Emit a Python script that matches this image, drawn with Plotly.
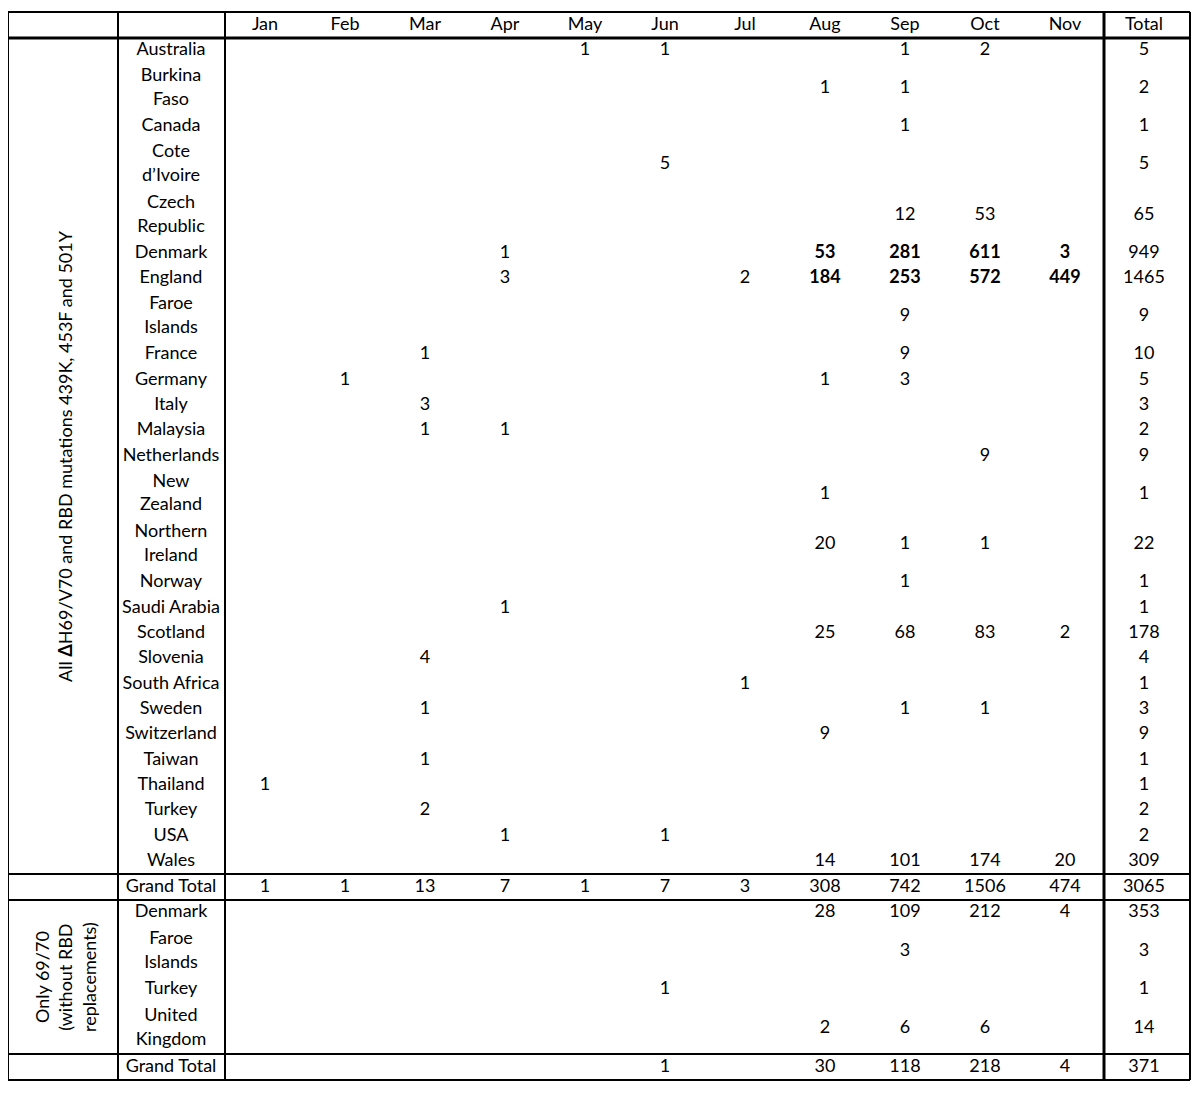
import plotly.graph_objects as go

months = ["Jan", "Feb", "Mar", "Apr", "May", "Jun", "Jul", "Aug", "Sep", "Oct", "Nov"]

# section 1: all dH69/V70 + RBD mutations
countries_1 = ["Australia", "Burkina<br>Faso", "Canada", "Cote<br>d’Ivoire", "Czech<br>Republic",
               "Denmark", "England", "Faroe<br>Islands", "France", "Germany", "Italy", "Malaysia",
               "Netherlands", "New<br>Zealand", "Northern<br>Ireland", "Norway", "Saudi Arabia",
               "Scotland", "Slovenia", "South Africa", "Sweden", "Switzerland", "Taiwan",
               "Thailand", "Turkey", "USA", "Wales"]
values_1 = [
    [None, None, None, None, 1, 1, None, None, 1, 2, None],
    [None, None, None, None, None, None, None, 1, 1, None, None],
    [None, None, None, None, None, None, None, None, 1, None, None],
    [None, None, None, None, None, 5, None, None, None, None, None],
    [None, None, None, None, None, None, None, None, 12, 53, None],
    [None, None, None, 1, None, None, None, 53, 281, 611, 3],
    [None, None, None, 3, None, None, 2, 184, 253, 572, 449],
    [None, None, None, None, None, None, None, None, 9, None, None],
    [None, None, 1, None, None, None, None, None, 9, None, None],
    [None, 1, None, None, None, None, None, 1, 3, None, None],
    [None, None, 3, None, None, None, None, None, None, None, None],
    [None, None, 1, 1, None, None, None, None, None, None, None],
    [None, None, None, None, None, None, None, None, None, 9, None],
    [None, None, None, None, None, None, None, 1, None, None, None],
    [None, None, None, None, None, None, None, 20, 1, 1, None],
    [None, None, None, None, None, None, None, None, 1, None, None],
    [None, None, None, 1, None, None, None, None, None, None, None],
    [None, None, None, None, None, None, None, 25, 68, 83, 2],
    [None, None, 4, None, None, None, None, None, None, None, None],
    [None, None, None, None, None, None, 1, None, None, None, None],
    [None, None, 1, None, None, None, None, None, 1, 1, None],
    [None, None, None, None, None, None, None, 9, None, None, None],
    [None, None, 1, None, None, None, None, None, None, None, None],
    [1, None, None, None, None, None, None, None, None, None, None],
    [None, None, 2, None, None, None, None, None, None, None, None],
    [None, None, None, 1, None, 1, None, None, None, None, None],
    [None, None, None, None, None, None, None, 14, 101, 174, 20],
]
totals_1 = [5, 2, 1, 5, 65, 949, 1465, 9, 10, 5, 3, 2, 9, 1, 22, 1, 1, 178, 4, 1, 3, 9, 1, 1, 2, 2, 309]
grand_1 = [1, 1, 13, 7, 1, 7, 3, 308, 742, 1506, 474]
grand_total_1 = 3065
bold_rows_1 = ["Denmark", "England"]

# section 2: only 69/70
countries_2 = ["Denmark", "Faroe<br>Islands", "Turkey", "United<br>Kingdom"]
values_2 = [
    [None, None, None, None, None, None, None, 28, 109, 212, 4],
    [None, None, None, None, None, None, None, None, 3, None, None],
    [None, None, None, None, None, 1, None, None, None, None, None],
    [None, None, None, None, None, None, None, 2, 6, 6, None],
]
totals_2 = [353, 3, 1, 14]
grand_2 = [None, None, None, None, None, 1, None, 30, 118, 218, 4]
grand_total_2 = 371

FONT = dict(family="Lato, Liberation Sans, sans-serif", size=18, color="black")
month_x = [265 + 80 * i for i in range(len(months))]
total_x = 1144
name_x = 171

xs, ys, texts = [], [], []

def add_row(name, vals, total, yc, bold=False):
    xs.append(name_x); ys.append(yc); texts.append(name)
    for mx, v in zip(month_x, vals):
        if v is not None:
            xs.append(mx); ys.append(yc)
            texts.append(f"<b>{v}</b>" if bold and mx >= month_x[7] else str(v))
    xs.append(total_x); ys.append(yc); texts.append(str(total))

# header
for mx, m in zip(month_x, months):
    xs.append(mx); ys.append(25); texts.append(m)
xs.append(total_x); ys.append(25); texts.append("Total")

lh1 = (874 - 38) / sum(c.count("<br>") + 1 for c in countries_1)
y = 38
for name, vals, tot in zip(countries_1, values_1, totals_1):
    h = (name.count("<br>") + 1) * lh1
    add_row(name, vals, tot, y + h / 2, bold=name in bold_rows_1)
    y += h
add_row("Grand Total", grand_1, grand_total_1, 887)

lh2 = (1054 - 900) / sum(c.count("<br>") + 1 for c in countries_2)
y = 900
for name, vals, tot in zip(countries_2, values_2, totals_2):
    h = (name.count("<br>") + 1) * lh2
    add_row(name, vals, tot, y + h / 2)
    y += h
add_row("Grand Total", grand_2, grand_total_2, 1067)

fig = go.Figure(go.Scatter(x=xs, y=ys, text=texts, mode="text", textfont=FONT,
                           textposition="middle center", hoverinfo="skip"))

shapes = []
def line(x0, y0, x1, y1, w=2):
    shapes.append(dict(type="line", x0=x0, y0=y0, x1=x1, y1=y1, xref="x", yref="y",
                       line=dict(color="black", width=w)))

line(8, 12, 1190, 12)
line(8, 38, 1190, 38, 3)
line(8, 874, 1190, 874, 2)
line(8, 900, 1190, 900, 2)
line(8, 1054, 1190, 1054, 2)
line(8, 1080, 1190, 1080, 2)
line(8, 12, 8, 1080)
line(1190, 12, 1190, 1080)
line(118, 12, 118, 1080)
line(225, 12, 225, 1080, 2)
line(1104, 12, 1104, 1080, 3)

# page body has an 8px margin, so shift the axis ranges to compensate
fig.update_layout(
    width=1200, height=1095, margin=dict(l=0, r=0, t=0, b=0),
    plot_bgcolor="white", paper_bgcolor="white", showlegend=False, shapes=shapes,
    xaxis=dict(range=[8, 1208], visible=False, fixedrange=True),
    yaxis=dict(range=[1103, 8], visible=False, fixedrange=True),
    annotations=[
        dict(x=65, y=456, xref="x", yref="y", textangle=-90, showarrow=False, font=FONT,
             text="All <b>Δ</b>H69/V70 and RBD mutations 439K, 453F and 501Y"),
        dict(x=65, y=977, xref="x", yref="y", textangle=-90, showarrow=False, font=FONT,
             text="Only 69/70<br>(without RBD<br>replacements)"),
    ],
)

fig.write_html("out.html")
